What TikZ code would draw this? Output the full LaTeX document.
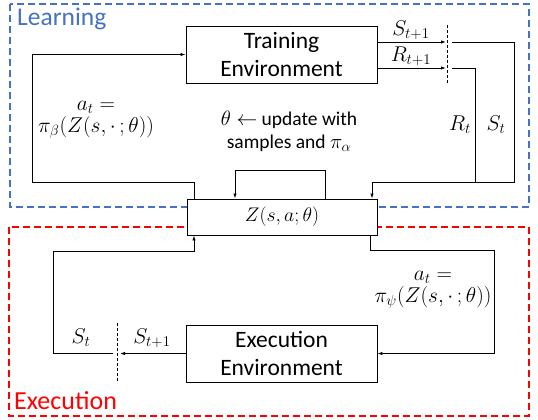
\documentclass[tikz,border=0pt]{standalone}
\usepackage{fontspec}
\usepackage{amsmath}
\usepackage{graphicx}
\newfontfamily\carl{Carlito}
\newcommand{\ml}[1]{\scalebox{1.24}{$#1$}}
\usetikzlibrary{arrows.meta,calc}
\definecolor{lblue}{RGB}{68,114,196}
\begin{document}
\begin{tikzpicture}[x=1pt,y=-1pt,
  box/.style={draw,fill=white,line width=0.9pt,inner sep=0pt,align=center,font=\carl\fontsize{23.5}{28.5}\selectfont},
  conn/.style={line width=0.9pt,-{Latex[length=5pt,width=3.5pt]}},
  plain/.style={line width=0.9pt},
  sep/.style={dashed,line width=0.7pt,dash pattern=on 3pt off 2pt},
  lab/.style={font=\fontsize{17.28}{22}\selectfont,align=center,inner sep=0pt}]
\useasboundingbox (0,0) rectangle (538,420);
% regions
\draw[lblue,dashed,line width=1.1pt,dash pattern=on 7pt off 4pt] (10,4) rectangle (529,207);
\draw[red,dashed,line width=1.1pt,dash pattern=on 7pt off 4pt] (9,227) rectangle (529,416);
\node[anchor=west,text=lblue,font=\carl\fontsize{25.5}{28}\selectfont,inner sep=0pt] (learn) at (17,19) {Learning};
\node[anchor=west,text=red,font=\carl\fontsize{26}{28}\selectfont,inner sep=0pt] (exec) at (14,401) {Execution};
% boxes
\node[box,minimum width=191pt,minimum height=57pt] (train) at (281.5,54.5) {Training\\Environment};
\node[draw,fill=white,line width=0.9pt,minimum width=190pt,minimum height=36pt,inner sep=0pt,font=\fontsize{17.28}{20}\selectfont] (Z) at (282,217) {\scalebox{1.14}{$Z(s,a;\theta)$}};
\node[box,minimum width=191pt,minimum height=57pt] (env) at (281.5,353.5) {Execution\\Environment};
% coordinates
\coordinate (dU1) at (447,25);
\coordinate (dU2) at (447,84);
\coordinate (dL1) at (117,323);
\coordinate (dL2) at (117,383);
\draw[sep] (dU1) -- (dU2);
\draw[sep] (dL1) -- (dL2);
% learning left loop
\coordinate (ll1) at (32,182);
\coordinate (ll2) at (194,182);
\draw[conn] (Z.north -| ll2) -- (ll2) -- (ll1) |- (train.west);
% S_{t+1}, R_{t+1}
\coordinate (sA) at (446,42);
\coordinate (rA) at (446,68);
\draw[conn] (train.east |- sA) -- (sA);
\draw[conn] (train.east |- rA) -- (rA);
\coordinate (sB) at (452,42);
\coordinate (rB) at (452,68);
\coordinate (sC) at (514,42);
\coordinate (rC) at (475,68);
\coordinate (bot) at (372,182);
\draw[conn] (sB) -- (sC) -- (sC |- bot) -- (bot) -- (Z.north -| bot);
\draw[plain] (rB) -- (rC) -- (rC |- bot);
% self loop
\coordinate (sl1) at (325,170);
\coordinate (sl2) at (235,170);
\draw[conn] (Z.north -| sl1) -- (sl1) -- (sl2) -- (Z.north -| sl2);
% execution right
\coordinate (er1) at (370,250);
\coordinate (er2) at (494,250);
\draw[conn] (Z.south -| er1) -- (er1) -- (er2) |- (env.east);
% execution left
\coordinate (elA) at (120,353.5);
\coordinate (elB) at (113,353.5);
\coordinate (elC) at (53,353.5);
\coordinate (elD) at (53,251);
\coordinate (elE) at (194,251);
\draw[conn] (env.west) -- (elA);
\draw[conn] (elB) -- (elC) -- (elD) -- (elE) -- (Z.south -| elE);
% labels
\node[lab] (la1) at (96,120) {\ml{a_t =}\\\ml{\pi_\beta(Z(s,\cdot\,;\theta))}};
\node[lab] (la2) at (433,290) {\ml{a_t =}\\\ml{\pi_\psi(Z(s,\cdot\,;\theta))}};
\node[lab,font=\carl\fontsize{19.5}{23}\selectfont] (upd) at (289,131) {$\theta\leftarrow$ update with\\samples and $\pi_\alpha$};
\node[lab] (s1) at (411,30) {\ml{S_{t+1}}};
\node[lab] (r1) at (411,56) {\ml{R_{t+1}}};
\node[lab] (rt) at (460,125) {\ml{R_t}};
\node[lab] (st) at (496,125) {\ml{S_t}};
\node[lab] (st2) at (81,338) {\ml{S_t}};
\node[lab] (st3) at (152,338) {\ml{S_{t+1}}};
\end{tikzpicture}
\end{document}
